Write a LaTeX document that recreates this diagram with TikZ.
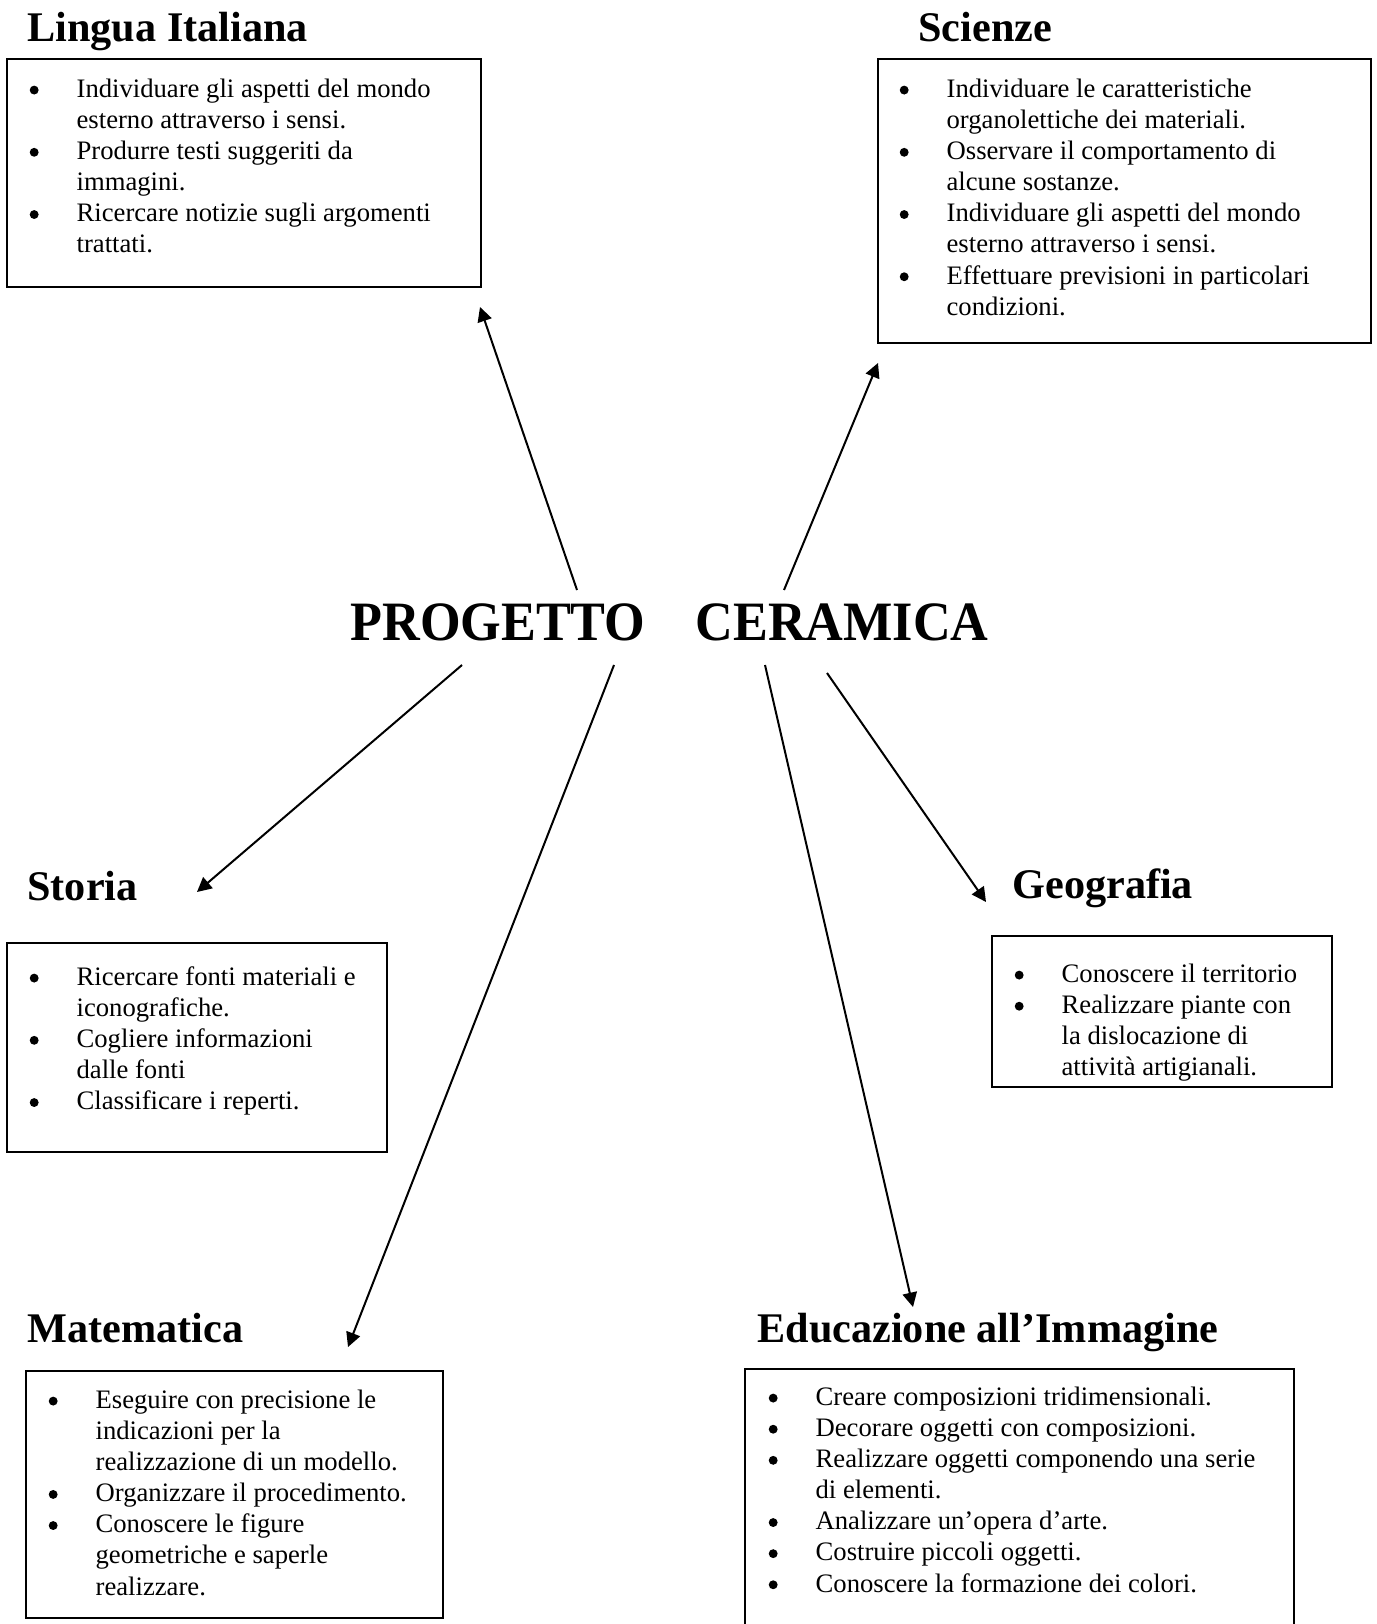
\documentclass[tikz,border=0pt]{standalone}
\usepackage{fontspec}
\setmainfont{Liberation Serif}
\newfontfamily\titolofont[FakeStretch=0.94]{Liberation Serif}
\usetikzlibrary{arrows.meta,fit}

\newcommand{\voce}{\strut\makebox[21.5pt][l]{\hspace{0.4pt}\tikz[baseline=-3.3pt]\fill (0,0) circle (2pt);}}
\newcommand{\segue}{\strut\hspace*{21.5pt}}

\begin{document}
\begin{tikzpicture}[x=0.45pt,y=-0.45pt,
  titolo/.style={font=\titolofont\bfseries\fontsize{25}{30}\selectfont, anchor=base west, inner sep=0},
  materia/.style={font=\fontsize{19}{22}\selectfont\bfseries, anchor=base west, inner sep=0},
  riquadro/.style={draw, line width=0.9pt, inner sep=0},
  elenco/.style={font=\fontsize{12}{14}\selectfont, align=left, anchor=north west, inner sep=0},
  freccia/.style={line width=0.9pt, -{Triangle[length=6.5pt,width=6.5pt]}}]

\useasboundingbox (0,0) rectangle (1376,1624);

\node[titolo] (progetto) at (350,640) {PROGETTO\hspace{22.5pt}CERAMICA};

% Lingua Italiana
\node[materia] (lingua) at (27,42) {Lingua Italiana};
\node[riquadro, fit={(7,59) (481,287)}] (boxLingua) {};
\node[elenco] (vociLingua) at (28.4,75.2) {\voce Individuare gli aspetti del mondo\\
\segue esterno attraverso i sensi.\\
\voce Produrre testi suggeriti da\\
\segue immagini.\\
\voce Ricercare notizie sugli argomenti\\
\segue trattati.};

% Scienze
\node[materia] (scienze) at (918,42) {Scienze};
\node[riquadro, fit={(878,59) (1371,343)}] (boxScienze) {};
\node[elenco] (vociScienze) at (898.4,75.2) {\voce Individuare le caratteristiche\\
\segue organolettiche dei materiali.\\
\voce Osservare il comportamento di\\
\segue alcune sostanze.\\
\voce Individuare gli aspetti del mondo\\
\segue esterno attraverso i sensi.\\
\voce Effettuare previsioni in particolari\\
\segue condizioni.};

% Storia
\node[materia] (storia) at (27,900) {Storia};
\node[riquadro, fit={(7,943) (387,1152)}] (boxStoria) {};
\node[elenco] (vociStoria) at (28.4,963.2) {\voce Ricercare fonti materiali e\\
\segue iconografiche.\\
\voce Cogliere informazioni\\
\segue dalle fonti\\
\voce Classificare i reperti.};

% Geografia
\node[materia] (geografia) at (1012,898) {Geografia};
\node[riquadro, fit={(992,936) (1332,1087)}] (boxGeografia) {};
\node[elenco] (vociGeografia) at (1013.4,960.2) {\voce Conoscere il territorio\\
\voce Realizzare piante con\\
\segue la dislocazione di\\
\segue attivit\`a artigianali.};

% Matematica
\node[materia] (matematica) at (27,1342) {Matematica};
\node[riquadro, fit={(26,1371) (443,1618)}] (boxMatematica) {};
\node[elenco] (vociMatematica) at (47.4,1386.2) {\voce Eseguire con precisione le\\
\segue indicazioni per la\\
\segue realizzazione di un modello.\\
\voce Organizzare il procedimento.\\
\voce Conoscere le figure\\
\segue geometriche e saperle\\
\segue realizzare.};

% Educazione all'Immagine
\node[materia] (immagine) at (757,1342) {Educazione all'Immagine};
\node[riquadro, fit={(745,1369) (1294,1640)}] (boxImmagine) {};
\node[elenco] (vociImmagine) at (767.4,1383.2) {\voce Creare composizioni tridimensionali.\\
\voce Decorare oggetti con composizioni.\\
\voce Realizzare oggetti componendo una serie\\
\segue di elementi.\\
\voce Analizzare un'opera d'arte.\\
\voce Costruire piccoli oggetti.\\
\voce Conoscere la formazione dei colori.};

% frecce
\coordinate (daLingua) at (577,590);
\coordinate (aLingua) at (480,307);
\coordinate (daScienze) at (784,590);
\coordinate (aScienze) at (878,363);
\coordinate (daStoria) at (462,665);
\coordinate (aStoria) at (197,892);
\coordinate (daMatematica) at (614,665);
\coordinate (aMatematica) at (348,1347);
\coordinate (daImmagine) at (765,665);
\coordinate (aImmagine) at (913,1307);
\coordinate (daGeografia) at (827,673);
\coordinate (aGeografia) at (986,902);

\draw[freccia] (daLingua) -- (aLingua);
\draw[freccia] (daScienze) -- (aScienze);
\draw[freccia] (daStoria) -- (aStoria);
\draw[freccia] (daMatematica) -- (aMatematica);
\draw[freccia] (daImmagine) -- (aImmagine);
\draw[freccia] (daGeografia) -- (aGeografia);

\end{tikzpicture}
\end{document}
